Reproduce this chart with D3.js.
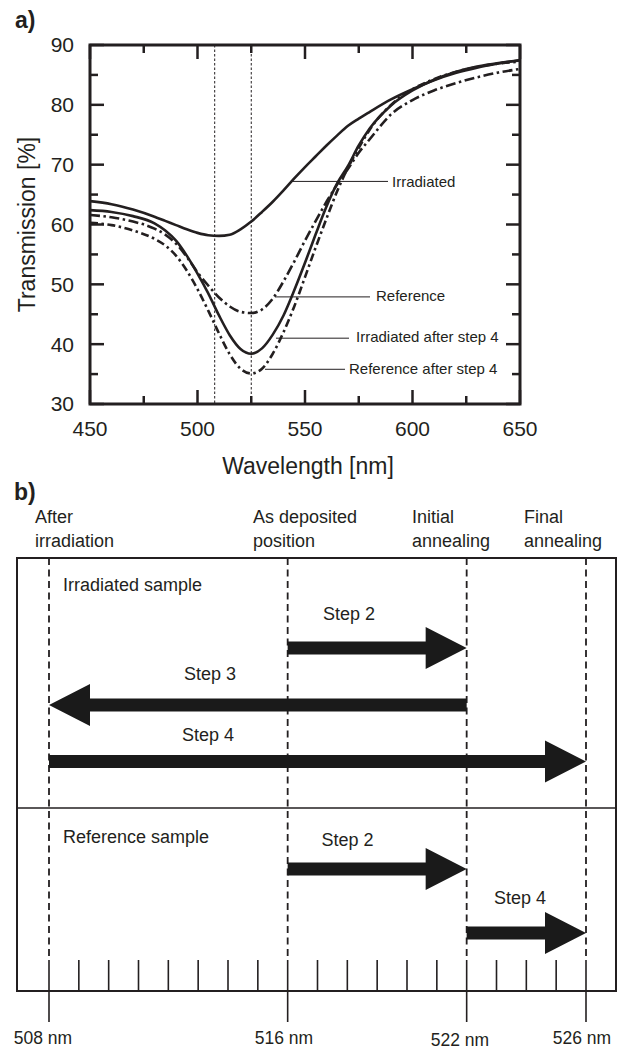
<!DOCTYPE html>
<html>
<head>
<meta charset="utf-8">
<script src="https://cdn.jsdelivr.net/npm/d3@7"></script>
<style>
  body { margin: 0; background: #fff; }
  svg { display: block; font-family: "Liberation Sans", Arial, sans-serif; }
</style>
</head>
<body>
<div id="chart"></div>
<script>
// panel a) transmission spectra
const wavelengths = [450, 460, 470, 480, 485, 490, 495, 500, 505, 510, 515, 520, 525, 530, 535, 540, 545, 550, 555, 560, 565, 570, 575, 580, 590, 600, 610, 620, 630, 640, 650];
const irradiated = [63.9, 63.4, 62.5, 61.3, 60.6, 59.9, 59.2, 58.6, 58.2, 58.1, 58.3, 59.2, 60.5, 62.1, 63.8, 65.7, 67.7, 69.6, 71.4, 73.2, 74.9, 76.5, 77.7, 78.8, 80.9, 82.6, 84.1, 85.3, 86.2, 86.9, 87.5];
const reference = [61.6, 61.2, 60.5, 59.3, 58.3, 56.8, 54.6, 52.0, 49.8, 47.8, 46.3, 45.4, 45.2, 45.8, 47.6, 50.5, 53.8, 57.3, 60.6, 63.8, 66.7, 69.3, 72.0, 74.2, 78.4, 80.8, 82.4, 83.6, 84.6, 85.4, 86.0];
const irradiatedStep4 = [62.4, 62.1, 61.4, 60.2, 59.0, 57.3, 54.8, 51.8, 48.5, 44.8, 41.5, 39.2, 38.4, 39.3, 41.6, 44.8, 49.0, 53.6, 58.4, 63.0, 66.9, 69.8, 73.2, 76.0, 79.9, 82.4, 84.2, 85.5, 86.4, 87.0, 87.4];
const referenceStep4 = [60.3, 59.9, 59.0, 57.6, 56.5, 54.8, 52.3, 49.2, 45.6, 41.8, 38.3, 35.9, 35.1, 35.9, 38.4, 42.0, 46.3, 51.2, 56.2, 61.0, 65.6, 69.5, 72.8, 75.8, 80.0, 82.6, 84.3, 85.5, 86.3, 86.9, 87.2];
const seriesNames = ["Irradiated", "Reference", "Irradiated after step 4", "Reference after step 4"];
const xTicks = [450, 500, 550, 600, 650];
const yTicks = [30, 40, 50, 60, 70, 80, 90];
const markerLines = [508, 525];
// where each leader line touches its curve [wavelength, transmission]
const leaderPoints = [[543.8, 67.2], [536, 47.9], [536.5, 41.0], [531.4, 35.8]];

// panel b) shift diagram
const positions = [508, 516, 522, 526];
const positionLabels = [["After", "irradiation"], ["As deposited", "position"], ["Initial", "annealing"], ["Final", "annealing"]];
const samples = ["Irradiated sample", "Reference sample"];
const irradiatedSteps = [["Step 2", 516, 522], ["Step 3", 522, 508], ["Step 4", 508, 526]];
const referenceSteps = [["Step 2", 516, 522], ["Step 4", 522, 526]];

const width = 623, height = 1051;
const ink = "#231f20";

const svg = d3.select("#chart").append("svg")
  .attr("width", width)
  .attr("height", height)
  .attr("viewBox", `0 0 ${width} ${height}`);

// ---------- a) ----------
const m = {left: 90, right: 520, top: 45, bottom: 404};
const x = d3.scaleLinear().domain([450, 650]).range([m.left, m.right]);
const y = d3.scaleLinear().domain([30, 90]).range([m.bottom, m.top]);

svg.append("text").attr("x", 15).attr("y", 28)
  .attr("font-size", 23).attr("font-weight", "bold").attr("fill", ink).text("a)");

// dotted markers
svg.append("g").selectAll("line").data(markerLines).enter().append("line")
  .attr("x1", d => x(d)).attr("x2", d => x(d))
  .attr("y1", m.top).attr("y2", m.bottom)
  .attr("stroke", ink).attr("stroke-width", 1).attr("stroke-dasharray", "2.5,2");

// inward ticks on all four sides
const minorX = d3.range(450, 651, 25), minorY = d3.range(30, 91, 5);
const tickG = svg.append("g").attr("stroke", ink).attr("stroke-width", 2.5);
minorX.forEach(v => {
  const len = v % 50 === 0 ? 14 : 8;
  tickG.append("line").attr("x1", x(v)).attr("x2", x(v)).attr("y1", m.bottom).attr("y2", m.bottom - len);
  tickG.append("line").attr("x1", x(v)).attr("x2", x(v)).attr("y1", m.top).attr("y2", m.top + len);
});
minorY.forEach(v => {
  const len = v % 10 === 0 ? 14 : 8;
  tickG.append("line").attr("y1", y(v)).attr("y2", y(v)).attr("x1", m.left).attr("x2", m.left + len);
  tickG.append("line").attr("y1", y(v)).attr("y2", y(v)).attr("x1", m.right).attr("x2", m.right - len);
});

svg.append("rect")
  .attr("x", m.left).attr("y", m.top)
  .attr("width", m.right - m.left).attr("height", m.bottom - m.top)
  .attr("fill", "none").attr("stroke", ink).attr("stroke-width", 3);

svg.append("g").selectAll("text").data(xTicks).enter().append("text")
  .attr("x", d => x(d)).attr("y", 429).attr("dy", "0.35em")
  .attr("text-anchor", "middle").attr("font-size", 21).attr("fill", ink)
  .text(d => d);
svg.append("g").selectAll("text").data(yTicks).enter().append("text")
  .attr("x", 74).attr("y", d => y(d)).attr("dy", "0.35em")
  .attr("text-anchor", "end").attr("font-size", 21).attr("fill", ink)
  .text(d => d);

svg.append("text").attr("x", (m.left + m.right) / 2 + 3).attr("y", 466).attr("dy", "0.35em")
  .attr("text-anchor", "middle").attr("font-size", 23).attr("fill", ink)
  .text("Wavelength [nm]");
svg.append("text")
  .attr("transform", `translate(27,${(m.top + m.bottom) / 2}) rotate(-90)`)
  .attr("dy", "0.35em").attr("text-anchor", "middle").attr("font-size", 23).attr("fill", ink)
  .text("Transmission [%]");

const series = [irradiated, reference, irradiatedStep4, referenceStep4];
const dashes = [null, "10,3.5,2.5,3.5", null, "8,3.5,2.5,3.5"];
const line = d3.line()
  .x((d, i) => x(wavelengths[i]))
  .y(d => y(d))
  .curve(d3.curveMonotoneX);

svg.append("g").selectAll("path").data(series).enter().append("path")
  .attr("d", line)
  .attr("fill", "none").attr("stroke", ink).attr("stroke-width", 2.6)
  .attr("stroke-dasharray", (d, i) => dashes[i]);

// leader lines and labels
const leaderEnd = [388, 370, 349, 345];
const labelStart = [392, 376, 356, 349];
const labelY = [181.7, 295.7, 336.7, 369];
const leaders = svg.append("g");
seriesNames.forEach((name, i) => {
  const [lx, ly] = leaderPoints[i];
  leaders.append("line")
    .attr("x1", x(lx)).attr("y1", y(ly))
    .attr("x2", leaderEnd[i]).attr("y2", y(ly))
    .attr("stroke", ink).attr("stroke-width", 1);
  leaders.append("text")
    .attr("x", labelStart[i]).attr("y", labelY[i]).attr("dy", "0.35em")
    .attr("font-size", 15).attr("fill", ink)
    .text(name);
});

// ---------- b) ----------
const box = {left: 17, right: 616, top: 558, mid: 808, bottom: 991};
const xb = d3.scaleLinear().domain([508, 526]).range([49, 586]);

svg.append("text").attr("x", 14).attr("y", 500)
  .attr("font-size", 23).attr("font-weight", "bold").attr("fill", ink).text("b)");

const headerX = [35, 253, 412, 524];
const headers = svg.append("g").attr("font-size", 18).attr("fill", ink);
positionLabels.forEach((lines, i) => {
  lines.forEach((t, j) => {
    headers.append("text")
      .attr("x", headerX[i]).attr("y", 517 + j * 24).attr("dy", "0.35em")
      .text(t);
  });
});

svg.append("rect")
  .attr("x", box.left).attr("y", box.top)
  .attr("width", box.right - box.left).attr("height", box.bottom - box.top)
  .attr("fill", "none").attr("stroke", ink).attr("stroke-width", 2);
svg.append("line")
  .attr("x1", box.left).attr("x2", box.right)
  .attr("y1", box.mid).attr("y2", box.mid)
  .attr("stroke", ink).attr("stroke-width", 1.6);

// dashed guides
svg.append("g").selectAll("line").data(positions).enter().append("line")
  .attr("x1", d => xb(d)).attr("x2", d => xb(d))
  .attr("y1", box.top).attr("y2", 960)
  .attr("stroke", ink).attr("stroke-width", 1.8).attr("stroke-dasharray", "7,4.5");

// 1 nm ticks
svg.append("g").selectAll("line").data(d3.range(508, 527)).enter().append("line")
  .attr("x1", d => xb(d)).attr("x2", d => xb(d))
  .attr("y1", 960).attr("y2", d => positions.includes(d) ? 1022 : box.bottom)
  .attr("stroke", ink).attr("stroke-width", 1.6);

const posLabelX = [43, 284, 460, 582];
const posLabelY = [1038, 1038, 1040, 1038];
svg.append("g").selectAll("text").data(positions).enter().append("text")
  .attr("x", (d, i) => posLabelX[i]).attr("y", (d, i) => posLabelY[i]).attr("dy", "0.35em")
  .attr("text-anchor", "middle").attr("font-size", 17.5).attr("fill", ink)
  .text(d => `${d} nm`);

svg.append("g").attr("font-size", 18).attr("fill", ink)
  .selectAll("text").data(samples).enter().append("text")
  .attr("x", 63).attr("y", (d, i) => i ? 837 : 585).attr("dy", "0.35em")
  .text(d => d);

// arrows
const laneY = [648, 705, 761.5, 869, 933];
const labelCx = [349, 210, 208, 347.5, 520];
const labelCy = [614, 674, 735, 840, 898];
const steps = irradiatedSteps.concat(referenceSteps);
const shaft = 6.5, headLen = 41, headHalf = 21;
function arrowPath(from, to, cy) {
  const x0 = xb(from), x1 = xb(to);
  const dir = Math.sign(x1 - x0);
  const xh = x1 - dir * headLen;
  return d3.line()([
    [x0, cy - shaft], [xh, cy - shaft], [xh, cy - headHalf], [x1, cy],
    [xh, cy + headHalf], [xh, cy + shaft], [x0, cy + shaft]
  ]) + "Z";
}
const arrows = svg.append("g");
steps.forEach(([label, from, to], i) => {
  arrows.append("path")
    .attr("d", arrowPath(from, to, laneY[i]))
    .attr("fill", "#1a1a1a");
  arrows.append("text")
    .attr("x", labelCx[i]).attr("y", labelCy[i]).attr("dy", "0.35em")
    .attr("text-anchor", "middle").attr("font-size", 18).attr("fill", ink)
    .text(label);
});
</script>
</body>
</html>
